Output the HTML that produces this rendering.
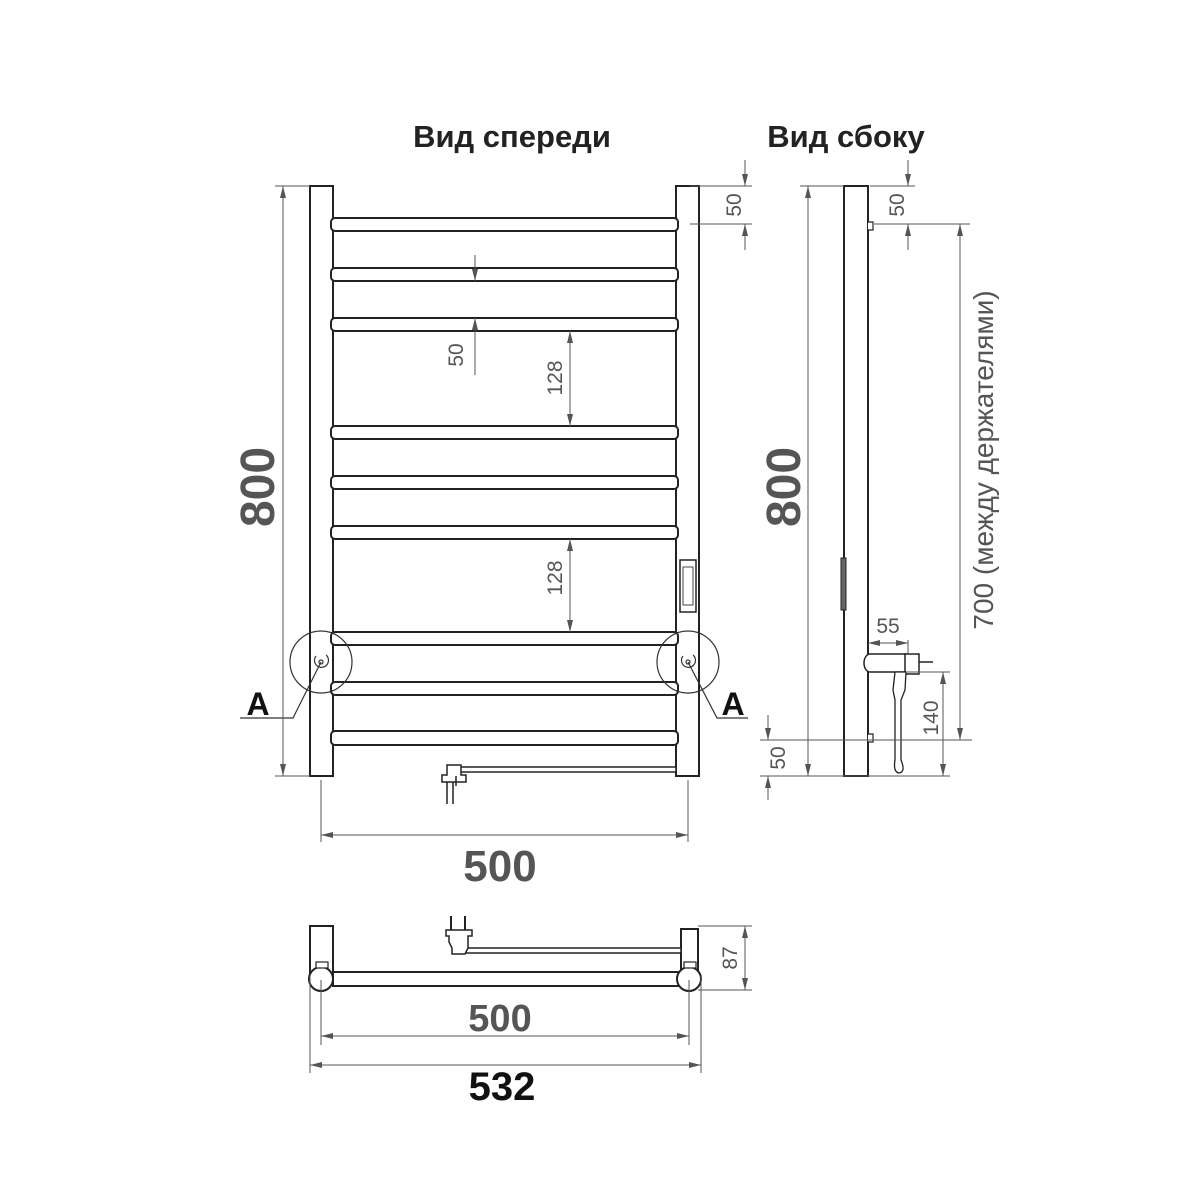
<!DOCTYPE html>
<html><head><meta charset="utf-8"><style>html,body{margin:0;padding:0;background:#fff}svg{display:block}</style></head>
<body>
<svg width="1200" height="1200" viewBox="0 0 1200 1200" xmlns="http://www.w3.org/2000/svg" font-family="Liberation Sans, sans-serif">
<defs>
<marker id="a" viewBox="0 0 12 6" refX="12" refY="3" markerWidth="12" markerHeight="6" orient="auto-start-reverse" markerUnits="userSpaceOnUse"><path d="M0,0 L12,3 L0,6 Z" fill="#555"/></marker>
</defs>
<rect width="1200" height="1200" fill="#fff"/>
<text x="512" y="147" font-size="31" font-weight="bold" text-anchor="middle" fill="#222">Вид спереди</text>
<text x="846" y="147" font-size="31" font-weight="bold" text-anchor="middle" fill="#222">Вид сбоку</text>

<!-- FRONT VIEW -->
<g stroke="#222" stroke-width="2" fill="#fff">
<rect x="310" y="186" width="23" height="590"/>
<rect x="676" y="186" width="23" height="590"/>
<g>
<rect x="331" y="218" width="347" height="13" rx="4"/>
<rect x="331" y="268" width="347" height="13" rx="4"/>
<rect x="331" y="318" width="347" height="13" rx="4"/>
<rect x="331" y="426" width="347" height="13" rx="4"/>
<rect x="331" y="476" width="347" height="13" rx="4"/>
<rect x="331" y="526" width="347" height="13" rx="4"/>
<rect x="331" y="632" width="347" height="13" rx="4"/>
<rect x="331" y="682" width="347" height="13" rx="4"/>
<rect x="331" y="731" width="347" height="14" rx="4"/>
</g>
<rect x="460" y="767" width="216" height="5" stroke-width="1.5"/>
<path d="M447,765 h14 v10 h5 v7 h-24 v-7 h5 z" stroke-width="1.5"/>
<path d="M447,782 v22 M453,782 v22 M456,776 v10" stroke-width="1.5"/>
<rect x="680" y="560" width="16" height="52" stroke-width="1.5"/>
</g>
<rect x="683" y="567" width="10" height="38" fill="none" stroke="#444" stroke-width="1"/>
<!-- circles A -->
<g stroke="#333" stroke-width="1.2" fill="none">
<circle cx="321" cy="662" r="31"/>
<circle cx="688" cy="662" r="31"/>
<circle cx="321" cy="662" r="2"/><circle cx="688" cy="662" r="2"/>
<path d="M316,656 a7,7 0 1 0 10,-1"/><path d="M683,656 a7,7 0 1 0 10,-1"/>
<path d="M321,662 L293,718 H240"/>
<path d="M688,662 L717,718 H748"/>
</g>
<text x="258" y="715" font-size="32" font-weight="bold" text-anchor="middle" fill="#111">A</text>
<text x="733" y="715" font-size="32" font-weight="bold" text-anchor="middle" fill="#111">A</text>

<!-- dims front -->
<g stroke="#555" stroke-width="1" fill="none">
<path d="M275,186 H310 M275,776 H310"/>
<line x1="283" y1="186" x2="283" y2="776" marker-start="url(#a)" marker-end="url(#a)"/>
<path d="M690,186 H752 M690,224 H752"/>
<line x1="745" y1="160" x2="745" y2="186" marker-end="url(#a)"/>
<line x1="745" y1="250" x2="745" y2="224" marker-end="url(#a)"/>
<line x1="475" y1="255" x2="475" y2="281" marker-end="url(#a)"/>
<line x1="475" y1="375" x2="475" y2="318" marker-end="url(#a)"/>
<line x1="570" y1="331" x2="570" y2="426" marker-start="url(#a)" marker-end="url(#a)"/>
<line x1="570" y1="539" x2="570" y2="632" marker-start="url(#a)" marker-end="url(#a)"/>
<path d="M321,780 V842 M688,780 V842"/>
<line x1="321" y1="835" x2="688" y2="835" marker-start="url(#a)" marker-end="url(#a)"/>
</g>
<g fill="#555" text-anchor="middle">
<text transform="translate(274,487) rotate(-90)" font-size="48" font-weight="bold">800</text>
<text transform="translate(741,205) rotate(-90)" font-size="21">50</text>
<text transform="translate(463,355) rotate(-90)" font-size="21">50</text>
<text transform="translate(562,378) rotate(-90)" font-size="21">128</text>
<text transform="translate(562,578) rotate(-90)" font-size="21">128</text>
<text x="500" y="881" font-size="44" font-weight="bold">500</text>
</g>

<!-- SIDE VIEW -->
<g stroke="#222" stroke-width="2" fill="#fff">
<rect x="844" y="186" width="24" height="590"/>
<path d="M868,222 h5 v8 h-5" stroke-width="1.2"/>
<path d="M868,734 h5 v8 h-5" stroke-width="1.2"/>
<rect x="841" y="558" width="5" height="52" fill="#666" stroke-width="1"/>
<path d="M870,654 H907 V672 H870 a6,9 0 0 1 0,-18 z" stroke-width="1.5"/>
<rect x="905" y="654" width="14" height="20" stroke-width="1.5"/>
<path d="M919,662 H933" stroke-width="1.5"/>
<path d="M895,672 L906,672 L905,690 L901,700 V760 Q906,772 899,773 Q893,772 895,760 V700 L893,690 Z" stroke-width="1.3"/>
</g>
<g stroke="#555" stroke-width="1" fill="none">
<path d="M800,186 H844 M800,776 H844"/>
<line x1="808" y1="186" x2="808" y2="776" marker-start="url(#a)" marker-end="url(#a)"/>
<path d="M870,186 H915 M874,224 H970"/>
<line x1="908" y1="160" x2="908" y2="186" marker-end="url(#a)"/>
<line x1="908" y1="250" x2="908" y2="224" marker-end="url(#a)"/>
<line x1="960" y1="224" x2="960" y2="740" marker-start="url(#a)" marker-end="url(#a)"/>
<path d="M760,740 H972 M760,776 H950 M907,672 H950"/>
<line x1="768" y1="715" x2="768" y2="740" marker-end="url(#a)"/>
<line x1="768" y1="800" x2="768" y2="776" marker-end="url(#a)"/>
<line x1="943" y1="672" x2="943" y2="776" marker-start="url(#a)" marker-end="url(#a)"/>
<path d="M908,640 V654"/>
<line x1="868" y1="643" x2="908" y2="643" marker-start="url(#a)" marker-end="url(#a)"/>
</g>
<g fill="#555" text-anchor="middle">
<text transform="translate(800,487) rotate(-90)" font-size="48" font-weight="bold">800</text>
<text transform="translate(904,205) rotate(-90)" font-size="21">50</text>
<text transform="translate(785,758) rotate(-90)" font-size="21">50</text>
<text transform="translate(938,718) rotate(-90)" font-size="21">140</text>
<text x="888" y="633" font-size="21">55</text>
<text transform="translate(993,460) rotate(-90)" font-size="28">700 (между держателями)</text>
</g>

<!-- BOTTOM VIEW -->
<g stroke="#222" stroke-width="2" fill="#fff">
<rect x="310" y="926" width="23" height="50"/>
<rect x="681" y="929" width="17" height="46"/>
<rect x="465" y="948" width="216" height="5" stroke-width="1.5"/>
<rect x="333" y="972" width="355" height="14"/>
<circle cx="321" cy="979" r="12"/>
<circle cx="689" cy="979" r="12"/>
<rect x="316" y="962" width="12" height="6" stroke-width="1.2"/>
<rect x="684" y="962" width="12" height="6" stroke-width="1.2"/>
<path d="M446,930 h26 v6 h-4 v12 l-3,6 h-13 v-6 l-3,-6 v-6 h-3 z" stroke-width="1.5"/>
<path d="M451,916 v14 M465,916 v14" stroke-width="2"/>
</g>
<g stroke="#555" stroke-width="1" fill="none">
<path d="M698,926 H752 M698,990 H752"/>
<line x1="745" y1="926" x2="745" y2="990" marker-start="url(#a)" marker-end="url(#a)"/>
<path d="M321,980 V1045 M689,980 V1045 M310,976 V1073 M701,976 V1073"/>
<line x1="321" y1="1036" x2="689" y2="1036" marker-start="url(#a)" marker-end="url(#a)"/>
<line x1="310" y1="1065" x2="701" y2="1065" marker-start="url(#a)" marker-end="url(#a)"/>
</g>
<g text-anchor="middle">
<text transform="translate(737,958) rotate(-90)" font-size="21" fill="#555">87</text>
<text x="500" y="1031" font-size="38" font-weight="bold" fill="#555">500</text>
<text x="502" y="1100" font-size="40" font-weight="bold" fill="#111">532</text>
</g>
</svg>
</body></html>
